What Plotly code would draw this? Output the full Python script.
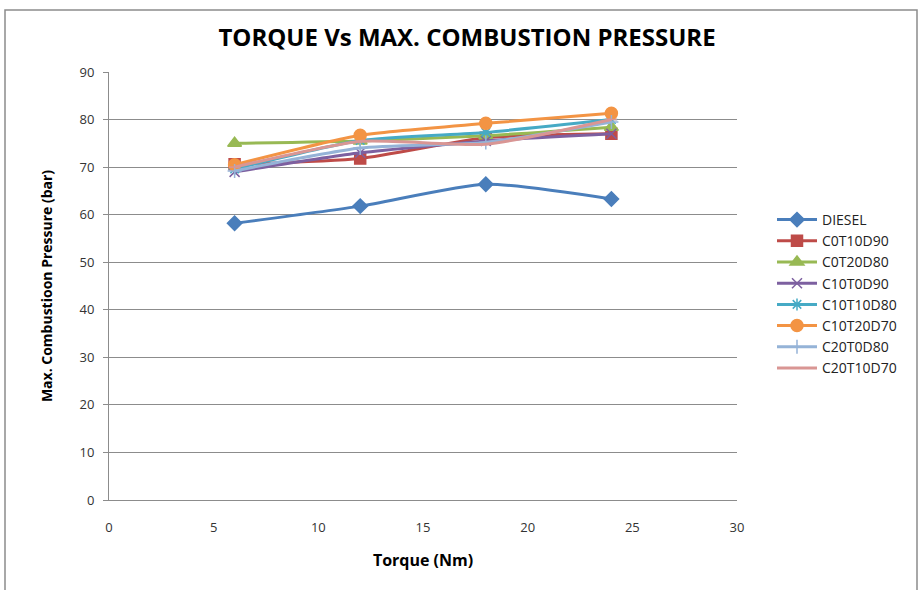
import plotly.graph_objects as go

torque = [6, 12, 18, 24]
diesel = [58.2, 61.8, 66.4, 63.3]
c0t10d90 = [70.6, 71.8, 76.2, 77.0]
c0t20d80 = [75.0, 75.5, 76.6, 78.4]
c10t0d90 = [69.0, 73.0, 75.5, 77.0]
c10t10d80 = [69.6, 75.6, 77.3, 80.0]
c10t20d70 = [70.5, 76.7, 79.2, 81.3]
c20t0d80 = [69.2, 74.0, 75.2, 79.5]
c20t10d70 = [70.0, 75.4, 74.8, 80.0]

series = [
    ("DIESEL", diesel, "#4a7ebb", "diamond", 11),
    ("C0T10D90", c0t10d90, "#be4b48", "square", 11),
    ("C0T20D80", c0t20d80, "#98b954", "triangle-up", 12),
    ("C10T0D90", c10t0d90, "#7d60a0", "x-thin-open", 10),
    ("C10T10D80", c10t10d80, "#46aac5", "asterisk-open", 10),
    ("C10T20D70", c10t20d70, "#f39444", "circle", 12),
    ("C20T0D80", c20t0d80, "#95b3d7", "cross-thin-open", 10),
    ("C20T10D70", c20t10d70, "#d99694", "line-ew-open", 8),
]

fig = go.Figure()
for name, vals, col, sym, sz in series:
    fig.add_trace(go.Scatter(
        x=torque, y=vals, name=name, mode="lines+markers",
        line=dict(color=col, width=3, shape="spline", smoothing=0.6),
        marker=dict(symbol=sym, size=sz, color=col, line=dict(color=col, width=1.5)),
    ))

W, H = 918, 590
L, R, T, B = 109, 181, 72, 90
pw, ph = W - L - R, H - T - B

def px(x):
    return (x - L) / pw

def py(y):
    return 1 - (y - T) / ph

fig.add_shape(type="rect", xref="paper", yref="paper",
              x0=px(5), x1=px(917), y0=py(10), y1=py(620),
              line=dict(color="#8c8c8c", width=1.5), layer="below")

font_main = "Liberation Sans Narrow, Open Sans, Arial"
fig.update_layout(
    width=W, height=H,
    margin=dict(l=L, r=R, t=T, b=B),
    paper_bgcolor="white", plot_bgcolor="white",
    title=dict(text="<b>TORQUE Vs MAX. COMBUSTION PRESSURE</b>",
               x=(218 + 716) / 2 / W, xanchor="center", y=1 - 38 / H, yanchor="middle",
               font=dict(family=font_main, size=24, color="black")),
    font=dict(family="Open Sans, Arial", size=12, color="#333"),
    showlegend=True,
    legend=dict(x=px(772), y=py(204), xanchor="left", yanchor="top",
                font=dict(family="Open Sans, Arial", size=14, color="#222"),
                tracegroupgap=0, itemwidth=40, bgcolor="rgba(0,0,0,0)"),
    xaxis=dict(range=[0, 30], dtick=5, tick0=0, showgrid=False, zeroline=False,
               showline=True, linecolor="#8c8c8c", linewidth=1, ticks="",
               ticklabelstandoff=15,
               tickfont=dict(size=13, color="#333"),
               title=dict(text="<b>Torque (Nm)</b>", font=dict(family=font_main, size=16, color="black"),
                          standoff=20)),
    yaxis=dict(range=[0, 90], dtick=10, tick0=0, showgrid=True, gridcolor="#8c8c8c", gridwidth=1,
               zeroline=False, showline=True, linecolor="#8c8c8c", linewidth=1,
               ticks="outside", ticklen=5, tickcolor="#8c8c8c",
               ticklabelstandoff=6,
               tickfont=dict(size=13, color="#333"),
               title=dict(text="<b>Max. Combustioon Pressure (bar)</b>",
                          font=dict(family=font_main, size=14, color="black"), standoff=23)),
)

fig.write_html("out.html")
